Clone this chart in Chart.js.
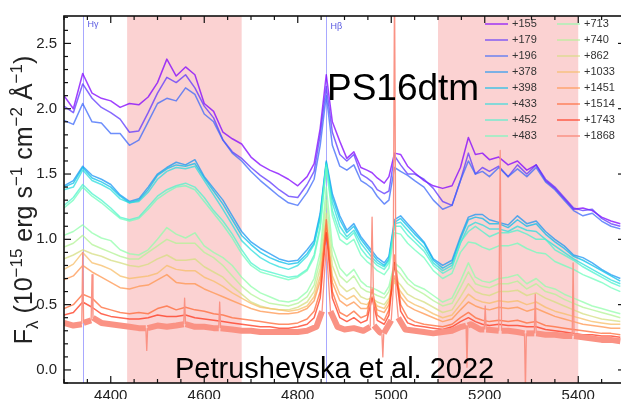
<!DOCTYPE html>
<html>
<head>
<meta charset="utf-8">
<script src="https://cdn.jsdelivr.net/npm/chart.js@4.4.1/dist/chart.umd.min.js"></script>
<style>
  html, body { margin: 0; padding: 0; background: #fff; overflow: hidden; }
  #spec { display: block; }
</style>
</head>
<body>
<canvas id="spec" width="626" height="399"></canvas>
<script>
// rest wavelength grid (Å) of the binned spectra
var wave = [
    4300, 4320, 4340, 4360, 4380, 4400, 4420, 4440, 4460, 4480,
    4500, 4520, 4540, 4560, 4580, 4600, 4620, 4640, 4660, 4680,
    4700, 4720, 4740, 4760, 4780, 4800, 4820, 4835, 4848, 4861,
    4874, 4890, 4905, 4920, 4935, 4948, 4959, 4970, 4985, 4995,
    5007, 5020, 5035, 5050, 5070, 5090, 5110, 5130, 5148, 5165,
    5180, 5195, 5210, 5230, 5250, 5270, 5290, 5310, 5330, 5350,
    5370, 5390, 5410, 5430, 5450, 5470, 5490
];

// flux, 1e-15 erg/s/cm2/A, one array per epoch (days)
var flux155 = [
    2.10, 2.00, 2.27, 2.12, 2.08, 2.06, 2.01, 2.04, 2.03, 2.09,
    2.20, 2.38, 2.25, 2.32, 2.26, 2.04, 1.98, 1.82, 1.77, 1.73,
    1.63, 1.57, 1.53, 1.50, 1.46, 1.41, 1.48, 1.58, 1.85, 2.26,
    1.90, 1.75, 1.62, 1.67, 1.55, 1.53, 1.51, 1.47, 1.43, 1.48,
    1.66, 1.65, 1.56, 1.51, 1.45, 1.41, 1.39, 1.41, 1.55, 1.78,
    1.65, 1.66, 1.61, 1.63, 1.57, 1.60, 1.53, 1.57, 1.45, 1.39,
    1.31, 1.23, 1.24, 1.22, 1.17, 1.14, 1.12
];
var flux179 = [
    2.02, 1.97, 2.19, 2.08, 2.01, 1.97, 1.92, 1.82, 1.83, 1.97,
    2.12, 2.24, 2.20, 2.26, 2.16, 2.02, 1.93, 1.76, 1.67, 1.62,
    1.55, 1.49, 1.44, 1.38, 1.33, 1.32, 1.42, 1.52, 1.80, 2.17,
    1.82, 1.65, 1.60, 1.65, 1.50, 1.47, 1.44, 1.38, 1.35, 1.37,
    1.64, 1.57, 1.50, 1.50, 1.46, 1.39, 1.29, 1.26, 1.45, 1.66,
    1.50, 1.55, 1.52, 1.56, 1.48, 1.57, 1.50, 1.57, 1.46, 1.40,
    1.32, 1.24, 1.22, 1.23, 1.16, 1.12, 1.10
];
var flux196 = [
    1.91, 1.88, 2.04, 1.90, 1.89, 1.81, 1.81, 1.72, 1.76, 1.90,
    2.04, 2.08, 2.06, 2.16, 2.11, 1.96, 1.90, 1.76, 1.66, 1.60,
    1.52, 1.45, 1.39, 1.33, 1.28, 1.26, 1.36, 1.46, 1.72, 2.10,
    1.72, 1.56, 1.53, 1.57, 1.45, 1.42, 1.39, 1.33, 1.27, 1.30,
    1.55, 1.52, 1.49, 1.45, 1.40, 1.30, 1.23, 1.26, 1.45, 1.60,
    1.50, 1.52, 1.48, 1.55, 1.48, 1.54, 1.48, 1.55, 1.44, 1.38,
    1.30, 1.22, 1.18, 1.20, 1.14, 1.10, 1.08
];
var flux378 = [
    1.41, 1.45, 1.56, 1.49, 1.46, 1.42, 1.34, 1.29, 1.31, 1.40,
    1.50, 1.55, 1.59, 1.57, 1.61, 1.48, 1.39, 1.30, 1.18, 1.06,
    0.98, 0.93, 0.89, 0.85, 0.83, 0.84, 0.92, 0.99, 1.20, 1.60,
    1.35, 1.18, 1.07, 1.12, 1.02, 0.96, 0.91, 0.86, 0.82, 0.87,
    1.15, 1.18, 1.12, 1.06, 0.98, 0.85, 0.80, 0.84, 1.02, 1.17,
    1.19, 1.19, 1.15, 1.13, 1.11, 1.18, 1.12, 1.14, 1.06, 1.00,
    0.95, 0.88, 0.86, 0.82, 0.77, 0.73, 0.70
];
var flux398 = [
    1.40, 1.43, 1.55, 1.47, 1.44, 1.40, 1.33, 1.28, 1.30, 1.38,
    1.49, 1.54, 1.57, 1.56, 1.58, 1.47, 1.37, 1.27, 1.15, 1.03,
    0.96, 0.90, 0.86, 0.83, 0.81, 0.82, 0.89, 0.97, 1.18, 1.59,
    1.32, 1.15, 1.05, 1.10, 1.00, 0.94, 0.89, 0.84, 0.80, 0.85,
    1.13, 1.16, 1.10, 1.04, 0.97, 0.84, 0.78, 0.82, 1.00, 1.15,
    1.17, 1.16, 1.12, 1.12, 1.09, 1.15, 1.10, 1.12, 1.04, 0.98,
    0.93, 0.87, 0.84, 0.80, 0.76, 0.72, 0.68
];
var flux433 = [
    1.38, 1.40, 1.53, 1.45, 1.42, 1.38, 1.31, 1.28, 1.29, 1.36,
    1.46, 1.52, 1.55, 1.54, 1.56, 1.45, 1.34, 1.23, 1.11, 0.99,
    0.92, 0.86, 0.82, 0.79, 0.77, 0.80, 0.87, 0.96, 1.16, 1.58,
    1.28, 1.10, 1.02, 1.07, 0.97, 0.91, 0.86, 0.82, 0.79, 0.84,
    1.12, 1.13, 1.07, 1.01, 0.94, 0.82, 0.76, 0.80, 0.97, 1.10,
    1.13, 1.11, 1.08, 1.08, 1.06, 1.10, 1.07, 1.06, 1.00, 0.95,
    0.90, 0.85, 0.81, 0.77, 0.73, 0.69, 0.66
];
var flux452 = [
    1.26, 1.32, 1.42, 1.35, 1.30, 1.24, 1.17, 1.15, 1.17, 1.25,
    1.33, 1.38, 1.41, 1.43, 1.40, 1.32, 1.22, 1.14, 1.04, 0.92,
    0.82, 0.77, 0.75, 0.73, 0.71, 0.72, 0.77, 0.88, 1.10, 1.57,
    1.22, 1.05, 1.00, 1.05, 0.93, 0.87, 0.84, 0.80, 0.77, 0.82,
    1.10, 1.10, 1.03, 0.98, 0.91, 0.80, 0.74, 0.78, 0.98, 1.06,
    1.10, 1.06, 1.02, 1.05, 1.05, 1.07, 1.04, 1.00, 1.00, 0.92,
    0.88, 0.84, 0.79, 0.75, 0.71, 0.67, 0.64
];
var flux483 = [
    1.24, 1.30, 1.40, 1.33, 1.28, 1.22, 1.16, 1.14, 1.16, 1.23,
    1.31, 1.36, 1.40, 1.41, 1.38, 1.29, 1.20, 1.11, 1.01, 0.89,
    0.80, 0.75, 0.73, 0.71, 0.69, 0.71, 0.76, 0.86, 1.08, 1.55,
    1.18, 1.00, 0.96, 1.00, 0.88, 0.83, 0.80, 0.76, 0.73, 0.78,
    1.05, 1.04, 0.97, 0.92, 0.86, 0.76, 0.70, 0.74, 0.90, 0.98,
    0.97, 0.94, 0.92, 0.95, 0.95, 0.97, 0.93, 0.90, 0.89, 0.83,
    0.80, 0.77, 0.73, 0.70, 0.67, 0.63, 0.60
];
var flux713 = [
    1.03, 1.06, 1.11, 1.05, 1.01, 0.99, 0.92, 0.89, 0.88, 0.92,
    1.00, 1.09, 1.04, 1.01, 1.05, 0.95, 0.90, 0.86, 0.80, 0.71,
    0.64, 0.59, 0.56, 0.53, 0.52, 0.54, 0.60, 0.70, 0.90, 1.40,
    0.95, 0.78, 0.72, 0.77, 0.68, 0.64, 0.63, 0.61, 0.58, 0.64,
    0.82, 0.78, 0.70, 0.65, 0.62, 0.57, 0.52, 0.55, 0.68, 0.82,
    0.71, 0.68, 0.67, 0.70, 0.71, 0.73, 0.66, 0.70, 0.64, 0.62,
    0.58, 0.55, 0.52, 0.49, 0.47, 0.45, 0.43
];
var flux740 = [
    0.94, 0.97, 1.03, 0.96, 0.93, 0.90, 0.87, 0.85, 0.85, 0.90,
    0.95, 1.00, 0.97, 0.97, 0.97, 0.90, 0.86, 0.80, 0.72, 0.64,
    0.58, 0.54, 0.51, 0.50, 0.49, 0.51, 0.56, 0.65, 0.84, 1.30,
    0.88, 0.72, 0.67, 0.72, 0.63, 0.60, 0.59, 0.57, 0.55, 0.60,
    0.78, 0.73, 0.66, 0.62, 0.58, 0.53, 0.49, 0.51, 0.63, 0.75,
    0.66, 0.64, 0.63, 0.66, 0.66, 0.68, 0.62, 0.66, 0.60, 0.58,
    0.54, 0.51, 0.48, 0.46, 0.44, 0.42, 0.40
];
var flux862 = [
    0.85, 0.88, 0.92, 0.89, 0.87, 0.84, 0.82, 0.80, 0.79, 0.81,
    0.85, 0.88, 0.84, 0.84, 0.85, 0.79, 0.75, 0.71, 0.64, 0.58,
    0.52, 0.49, 0.47, 0.46, 0.46, 0.48, 0.52, 0.60, 0.78, 1.20,
    0.80, 0.65, 0.60, 0.63, 0.56, 0.54, 0.55, 0.52, 0.50, 0.55,
    0.70, 0.65, 0.58, 0.55, 0.52, 0.48, 0.44, 0.46, 0.56, 0.66,
    0.60, 0.58, 0.57, 0.60, 0.60, 0.61, 0.57, 0.59, 0.55, 0.52,
    0.49, 0.46, 0.43, 0.41, 0.39, 0.38, 0.37
];
var flux1033 = [
    0.77, 0.81, 0.90, 0.82, 0.80, 0.77, 0.72, 0.70, 0.71, 0.72,
    0.74, 0.80, 0.77, 0.76, 0.76, 0.71, 0.68, 0.64, 0.59, 0.55,
    0.51, 0.48, 0.47, 0.46, 0.45, 0.46, 0.49, 0.56, 0.72, 1.12,
    0.72, 0.58, 0.54, 0.57, 0.51, 0.50, 0.55, 0.49, 0.47, 0.53,
    0.68, 0.60, 0.53, 0.50, 0.47, 0.43, 0.40, 0.42, 0.50, 0.58,
    0.54, 0.52, 0.51, 0.53, 0.52, 0.53, 0.50, 0.52, 0.48, 0.45,
    0.43, 0.41, 0.39, 0.37, 0.36, 0.35, 0.35
];
var flux1451 = [
    0.69, 0.72, 0.80, 0.75, 0.71, 0.67, 0.63, 0.62, 0.64, 0.65,
    0.69, 0.73, 0.67, 0.66, 0.66, 0.62, 0.59, 0.56, 0.53, 0.50,
    0.47, 0.45, 0.44, 0.43, 0.43, 0.44, 0.47, 0.53, 0.68, 1.08,
    0.67, 0.53, 0.49, 0.52, 0.47, 0.47, 0.56, 0.46, 0.44, 0.50,
    0.72, 0.56, 0.49, 0.46, 0.43, 0.40, 0.37, 0.39, 0.46, 0.52,
    0.49, 0.47, 0.46, 0.48, 0.47, 0.48, 0.45, 0.47, 0.44, 0.41,
    0.39, 0.37, 0.35, 0.34, 0.33, 0.32, 0.32
];
var flux1514 = [
    0.47, 0.50, 0.58, 0.55, 0.48, 0.46, 0.44, 0.43, 0.44, 0.43,
    0.47, 0.49, 0.46, 0.48, 0.46, 0.45, 0.43, 0.42, 0.40, 0.39,
    0.38, 0.37, 0.36, 0.35, 0.35, 0.36, 0.39, 0.45, 0.60, 1.15,
    0.60, 0.44, 0.41, 0.45, 0.40, 0.42, 0.62, 0.42, 0.38, 0.46,
    0.88, 0.50, 0.40, 0.37, 0.35, 0.34, 0.33, 0.35, 0.40, 0.44,
    0.40, 0.38, 0.37, 0.38, 0.37, 0.38, 0.36, 0.37, 0.34, 0.33,
    0.32, 0.31, 0.30, 0.29, 0.28, 0.28, 0.27
];
var flux1743 = [
    0.42, 0.44, 0.52, 0.48, 0.43, 0.41, 0.40, 0.39, 0.39, 0.40,
    0.42, 0.41, 0.41, 0.42, 0.40, 0.39, 0.38, 0.37, 0.36, 0.35,
    0.34, 0.33, 0.33, 0.32, 0.32, 0.33, 0.35, 0.40, 0.55, 1.05,
    0.55, 0.40, 0.37, 0.40, 0.36, 0.38, 0.55, 0.38, 0.35, 0.42,
    0.82, 0.45, 0.36, 0.34, 0.33, 0.32, 0.31, 0.33, 0.37, 0.40,
    0.37, 0.35, 0.34, 0.35, 0.34, 0.34, 0.33, 0.33, 0.31, 0.30,
    0.29, 0.28, 0.27, 0.27, 0.26, 0.26, 0.25
];

// last epoch is unbinned, so it keeps its narrow lines and sky residuals
var waveLate = [
    4300, 4320, 4338, 4340, 4342, 4358, 4360, 4362, 4380, 4400,
    4420, 4440, 4460, 4475, 4477, 4479, 4500, 4520, 4540, 4556,
    4558, 4560, 4580, 4600, 4620, 4631, 4633, 4635, 4660, 4680,
    4700, 4720, 4740, 4760, 4780, 4800, 4820, 4840, 4852, 4861,
    4870, 4885, 4900, 4920, 4940, 4955, 4959, 4963, 4975, 4980,
    4982, 4984, 5000, 5004, 5007, 5010, 5015, 5030, 5050, 5070,
    5090, 5110, 5130, 5150, 5160, 5162, 5164, 5170, 5190, 5199,
    5201, 5203, 5230, 5233, 5236, 5250, 5270, 5285, 5287, 5289,
    5306, 5308, 5310, 5330, 5350, 5370, 5387, 5389, 5391, 5410,
    5430, 5450, 5470, 5490
];
var flux1868 = [
    0.36, 0.34, 0.35, 0.90, 0.36, 0.38, 0.73, 0.40, 0.36, 0.35,
    0.34, 0.33, 0.32, 0.32, 0.15, 0.32, 0.34, 0.33, 0.34, 0.35,
    0.55, 0.35, 0.33, 0.33, 0.32, 0.32, 0.52, 0.32, 0.31, 0.30,
    0.30, 0.29, 0.29, 0.29, 0.29, 0.29, 0.30, 0.33, 0.45, 0.95,
    0.45, 0.33, 0.31, 0.32, 0.30, 0.33, 1.17, 0.34, 0.29, 0.28,
    0.10, 0.28, 0.38, 0.60, 3.00, 0.60, 0.40, 0.31, 0.30, 0.29,
    0.28, 0.29, 0.30, 0.33, 0.34, 0.02, 0.34, 0.35, 0.31, 0.31,
    0.49, 0.31, 0.30, 1.68, 0.30, 0.30, 0.29, 0.28, -0.15, 0.28,
    0.28, 0.58, 0.28, 0.27, 0.27, 0.26, 0.26, 0.82, 0.26, 0.25,
    0.24, 0.23, 0.23, 0.22
];

var epochs = ['+155', '+179', '+196', '+378', '+398', '+433', '+452', '+483',
              '+713', '+740', '+862', '+1033', '+1451', '+1514', '+1743', '+1868'];
var xTickVals = [4400, 4600, 4800, 5000, 5200, 5400];
var yTickVals = [0.0, 0.5, 1.0, 1.5, 2.0, 2.5];
var shadeFrom = [4435, 5100];
var shadeTo = [4680, 5400];
var lineWaves = [4340, 4861];
var lineNames = ['Hγ', 'Hβ'];

// rainbow colour map, one stop per epoch
var lineColors = [
    'rgba(128,0,255,0.75)', 'rgba(94,53,254,0.75)', 'rgba(60,104,249,0.75)', 'rgba(26,150,243,0.75)',
    'rgba(9,190,233,0.75)', 'rgba(43,221,221,0.75)', 'rgba(77,243,206,0.75)', 'rgba(111,254,190,0.75)',
    'rgba(145,254,171,0.75)', 'rgba(179,243,150,0.75)', 'rgba(213,221,128,0.75)', 'rgba(247,190,104,0.75)',
    'rgba(255,150,79,0.75)', 'rgba(255,104,53,0.75)', 'rgba(255,53,27,0.75)', 'rgb(250,146,132)'
];

var FONT = "'Liberation Sans', Arial, sans-serif";

var binned = [flux155, flux179, flux196, flux378, flux398, flux433, flux452, flux483,
              flux713, flux740, flux862, flux1033, flux1451, flux1514, flux1743];

var datasets = binned.map(function (f, i) {
    return {
        label: epochs[i],
        data: wave.map(function (w, j) { return { x: w, y: f[j] }; }),
        borderColor: lineColors[i],
        borderWidth: 1.5,
        borderJoinStyle: 'round',
        pointRadius: 0,
        order: epochs.length - i
    };
});
datasets.push({
    label: epochs[15],
    data: waveLate.map(function (w, j) { return { x: w, y: flux1868[j] }; }),
    borderColor: lineColors[15],
    borderWidth: 6,
    borderJoinStyle: 'round',
    pointRadius: 0,
    order: 0,
    segment: {
        // noisy continuum drawn as a thick band, narrow lines as thin strokes
        borderWidth: function (c) {
            return Math.abs(c.p1.parsed.y - c.p0.parsed.y) > 0.12 ? 1.3 : 6;
        }
    }
});

// pink windows and the Balmer markers, under the spectra
var backdrop = {
    id: 'backdrop',
    beforeDatasetsDraw: function (chart) {
        var ctx = chart.ctx, a = chart.chartArea, x = chart.scales.x;
        ctx.save();
        ctx.fillStyle = '#fbd2d2';
        shadeFrom.forEach(function (w0, i) {
            var x0 = x.getPixelForValue(w0), x1 = x.getPixelForValue(shadeTo[i]);
            ctx.fillRect(x0, a.top, x1 - x0, a.bottom - a.top);
        });
        ctx.strokeStyle = 'rgba(110,110,255,0.6)';
        ctx.lineWidth = 1;
        ctx.fillStyle = '#5a5ae0';
        ctx.font = '9px ' + FONT;
        ctx.textBaseline = 'middle';
        lineWaves.forEach(function (w, i) {
            var px = Math.round(x.getPixelForValue(w)) + 0.5;
            ctx.beginPath();
            ctx.moveTo(px, a.top);
            ctx.lineTo(px, a.bottom);
            ctx.stroke();
            ctx.fillText(lineNames[i], px + 4, i === 0 ? 25 : 27);
        });
        ctx.restore();
    }
};

// box with inward ticks on all four sides
var frameTicks = {
    id: 'frameTicks',
    afterDatasetsDraw: function (chart) {
        var ctx = chart.ctx, a = chart.chartArea, x = chart.scales.x, y = chart.scales.y;
        ctx.save();
        ctx.strokeStyle = '#111';
        ctx.lineWidth = 1.2;
        function seg(x1, y1, x2, y2) {
            ctx.beginPath(); ctx.moveTo(x1, y1); ctx.lineTo(x2, y2); ctx.stroke();
        }
        for (var w = 4300; w <= 5500; w += 50) {
            var px = x.getPixelForValue(w);
            var len = xTickVals.indexOf(w) >= 0 ? 7 : 4;
            seg(px, a.bottom, px, a.bottom - len);
            seg(px, a.top, px, a.top + len);
        }
        for (var k = -1; k <= 27; k++) {
            var py = y.getPixelForValue(k / 10);
            var l2 = k % 5 === 0 ? 7 : 4;
            seg(a.left, py, a.left + l2, py);
            seg(a.right, py, a.right - l2, py);
        }
        ctx.lineWidth = 1.6;
        ctx.strokeRect(a.left, a.top, a.right - a.left, a.bottom - a.top);
        ctx.restore();
    }
};

// axis title, legend and the two captions
var overlay = {
    id: 'overlay',
    afterDraw: function (chart) {
        var ctx = chart.ctx;
        ctx.save();

        var parts = [['F', 25, 0], ['λ', 17, 6], [' (10', 25, 0], ['−15', 17, -10],
                     [' erg s', 25, 0], ['−1', 17, -10], [' cm', 25, 0], ['−2', 17, -10],
                     [' Å', 25, 0], ['−1', 17, -10], [')', 25, 0]];
        var total = 0;
        parts.forEach(function (p) {
            ctx.font = p[1] + 'px ' + FONT;
            p.push(ctx.measureText(p[0]).width);
            total += p[3];
        });
        ctx.translate(32, 200);
        ctx.rotate(-Math.PI / 2);
        ctx.fillStyle = '#222';
        ctx.textBaseline = 'alphabetic';
        var u = -total / 2;
        parts.forEach(function (p) {
            ctx.font = p[1] + 'px ' + FONT;
            ctx.fillText(p[0], u, p[2]);
            u += p[3];
        });
        ctx.setTransform(1, 0, 0, 1, 0, 0);

        ctx.font = '11px ' + FONT;
        ctx.textBaseline = 'middle';
        ctx.lineWidth = 1.5;
        chart.data.datasets.forEach(function (ds, i) {
            var lx = i < 8 ? 485 : 557;
            var ty = 24 + (i % 8) * 16;
            ctx.strokeStyle = ds.borderColor;
            ctx.beginPath();
            ctx.moveTo(lx, ty);
            ctx.lineTo(lx + 23, ty);
            ctx.stroke();
            ctx.fillStyle = '#333';
            ctx.fillText(ds.label, lx + 27, ty);
        });

        ctx.fillStyle = '#000';
        ctx.textBaseline = 'alphabetic';
        ctx.font = '37px ' + FONT;
        ctx.fillText('PS16dtm', 327, 100);
        ctx.font = '29px ' + FONT;
        ctx.fillText('Petrushevska et al. 2022', 175, 378);
        ctx.restore();
    }
};

new Chart(document.getElementById('spec').getContext('2d'), {
    type: 'line',
    data: { datasets: datasets },
    options: {
        responsive: false,
        animation: false,
        devicePixelRatio: 1,
        layout: { padding: { top: 9, right: 1, left: 0, bottom: 0 } },
        plugins: { legend: { display: false }, tooltip: { enabled: false } },
        scales: {
            x: {
                type: 'linear',
                min: 4300,
                max: 5500,
                afterFit: function (s) { s.height = 16; },
                afterBuildTicks: function (s) { s.ticks = xTickVals.map(function (v) { return { value: v }; }); },
                grid: { display: false, drawTicks: false },
                border: { display: false },
                ticks: {
                    padding: 4,
                    color: '#222',
                    font: { family: FONT, size: 15 },
                    maxRotation: 0,
                    callback: function (v) { return String(v); }
                }
            },
            y: {
                type: 'linear',
                min: -0.1,
                max: 2.71,
                afterFit: function (s) { s.width = 64; },
                afterBuildTicks: function (s) { s.ticks = yTickVals.map(function (v) { return { value: v }; }); },
                grid: { display: false, drawTicks: false },
                border: { display: false },
                ticks: {
                    padding: 7,
                    color: '#222',
                    font: { family: FONT, size: 15 },
                    callback: function (v) { return v.toFixed(1); }
                }
            }
        }
    },
    plugins: [backdrop, frameTicks, overlay]
});
</script>
</body>
</html>
